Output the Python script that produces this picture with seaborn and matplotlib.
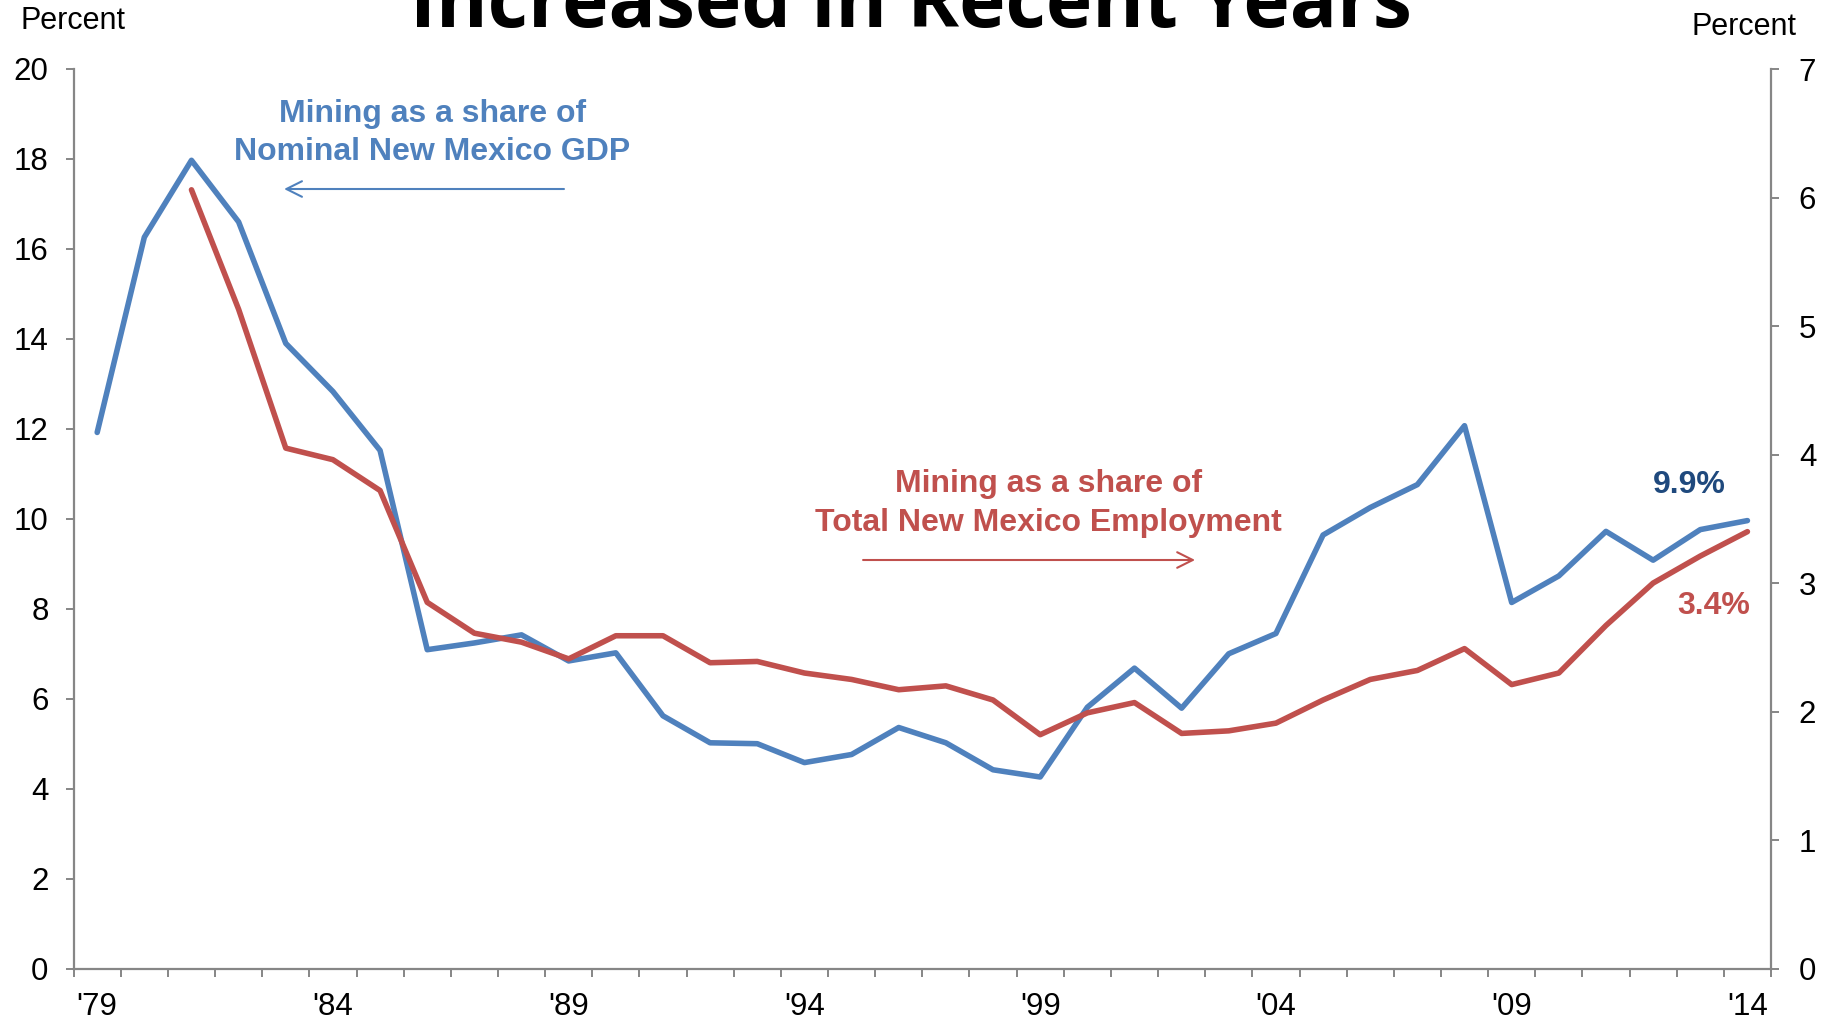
import matplotlib
matplotlib.use('Agg')
import matplotlib.pyplot as plt
import seaborn as sns
import pandas as pd
from matplotlib.ticker import FixedLocator

# ---------------- data ----------------
years = list(range(1979, 2015))
gdp_share = [11.92, 16.26, 17.97, 16.6, 13.9, 12.83, 11.52, 7.09, 7.24, 7.42,
             6.84, 7.02, 5.62, 5.02, 5.0, 4.58, 4.76, 5.36, 5.02, 4.42,
             4.26, 5.81, 6.68, 5.79, 7.0, 7.45, 9.64, 10.25, 10.76, 12.07,
             8.14, 8.73, 9.72, 9.08, 9.76, 9.96]
emp_years = list(range(1981, 2015))
emp_share = [6.06, 5.13, 4.05, 3.96, 3.72, 2.85, 2.61, 2.54, 2.41, 2.59,
             2.59, 2.38, 2.39, 2.30, 2.25, 2.17, 2.20, 2.09, 1.82, 1.99,
             2.07, 1.83, 1.85, 1.91, 2.09, 2.25, 2.32, 2.49, 2.21, 2.30,
             2.67, 3.00, 3.21, 3.40]
label_years = [1979, 1984, 1989, 1994, 1999, 2004, 2009, 2014]
label_text = ["'79", "'84", "'89", "'94", "'99", "'04", "'09", "'14"]
left_ticks = [0, 2, 4, 6, 8, 10, 12, 14, 16, 18, 20]
right_ticks = [0, 1, 2, 3, 4, 5, 6, 7]

BLUE = '#4F81BD'
RED = '#C0504D'
DARKBLUE = '#1F497D'
GRAY = '#868686'

sns.set_theme(style='white')
plt.rcParams['font.family'] = ['Liberation Sans', 'DejaVu Sans']

W, H = 1832, 1021
fig = plt.figure(figsize=(W / 100, H / 100), dpi=100)
L, R, T, B = 73.6, 1771, 69, 968.6
ax = fig.add_axes([L / W, 1 - B / H, (R - L) / W, (B - T) / H])

gdp_df = pd.DataFrame({'year': years, 'share': gdp_share})
emp_df = pd.DataFrame({'year': emp_years, 'share': emp_share})

sns.lineplot(data=gdp_df, x='year', y='share', ax=ax, color=BLUE,
             linewidth=4.0, legend=False)
ax2 = ax.twinx()
sns.lineplot(data=emp_df, x='year', y='share', ax=ax2, color=RED,
             linewidth=4.0, legend=False)

for a in (ax, ax2):
    a.set_xlim(years[0] - 0.5, years[-1] + 0.5)
    a.set_xlabel('')
    a.set_ylabel('')
    for s in a.spines.values():
        s.set_visible(False)
    a.grid(False)

ax.set_ylim(0, 20)
ax2.set_ylim(0, 7)

ax.spines['left'].set_visible(True)
ax.spines['bottom'].set_visible(True)
ax2.spines['right'].set_visible(True)
for s in (ax.spines['left'], ax.spines['bottom'], ax2.spines['right']):
    s.set_color(GRAY)
    s.set_linewidth(1.6)

ax.set_yticks(left_ticks)
ax.set_yticklabels([str(v) for v in left_ticks])
ax2.set_yticks(right_ticks)
ax2.set_yticklabels([str(v) for v in right_ticks])
ax.tick_params(axis='y', direction='out', length=6, width=1.4, color=GRAY,
               labelsize=22.5, pad=12, left=True, labelcolor='black')
ax2.tick_params(axis='y', direction='out', length=6, width=1.4, color=GRAY,
                labelsize=22.5, pad=14, right=True, labelcolor='black')

ax.set_xticks(label_years)
ax.set_xticklabels(label_text)
ax.tick_params(axis='x', length=0, labelsize=22.5, pad=17, labelcolor='black')
boundaries = [y - 0.5 for y in years] + [years[-1] + 0.5]
ax.xaxis.set_minor_locator(FixedLocator(boundaries))
ax.tick_params(axis='x', which='minor', direction='out', length=6,
               width=1.4, color=GRAY, bottom=True)

# annotations
ax.text(0.2112, 0.929, 'Mining as a share of\nNominal New Mexico GDP',
        transform=ax.transAxes, ha='center', va='center', color=BLUE,
        fontsize=23, fontweight='bold', linespacing=1.36)
ax.annotate('', xy=(0.124, 0.8666), xytext=(0.2889, 0.8666),
            xycoords='axes fraction', textcoords='axes fraction',
            arrowprops=dict(arrowstyle='->', color=BLUE, lw=1.5,
                            mutation_scale=28, shrinkA=0, shrinkB=0))
ax.text(0.5741, 0.517, 'Mining as a share of\nTotal New Mexico Employment',
        transform=ax.transAxes, ha='center', va='center', color=RED,
        fontsize=23, fontweight='bold', linespacing=1.36)
ax.annotate('', xy=(0.6607, 0.4542), xytext=(0.4651, 0.4542),
            xycoords='axes fraction', textcoords='axes fraction',
            arrowprops=dict(arrowstyle='->', color=RED, lw=1.5,
                            mutation_scale=28, shrinkA=0, shrinkB=0))
ax.text(0.9518, 0.5375, '9.9%', transform=ax.transAxes, ha='center',
        va='center', color=DARKBLUE, fontsize=23, fontweight='bold')
ax.text(0.9664, 0.4032, '3.4%', transform=ax.transAxes, ha='center',
        va='center', color=RED, fontsize=23, fontweight='bold')

fig.text(73 / W, 1 - 21 / H, 'Percent', ha='center', va='center',
         fontsize=22, color='black')
fig.text(1744 / W, 1 - 27 / H, 'Percent', ha='center', va='center',
         fontsize=22, color='black')
fig.text(911 / W, 1 - 27 / H, 'Increased in Recent Years', ha='center',
         va='baseline', fontsize=56.5, fontweight='bold', color='black',
         family=['Open Sans', 'DejaVu Sans'])

fig.savefig('out.png', dpi=100, facecolor='white')
